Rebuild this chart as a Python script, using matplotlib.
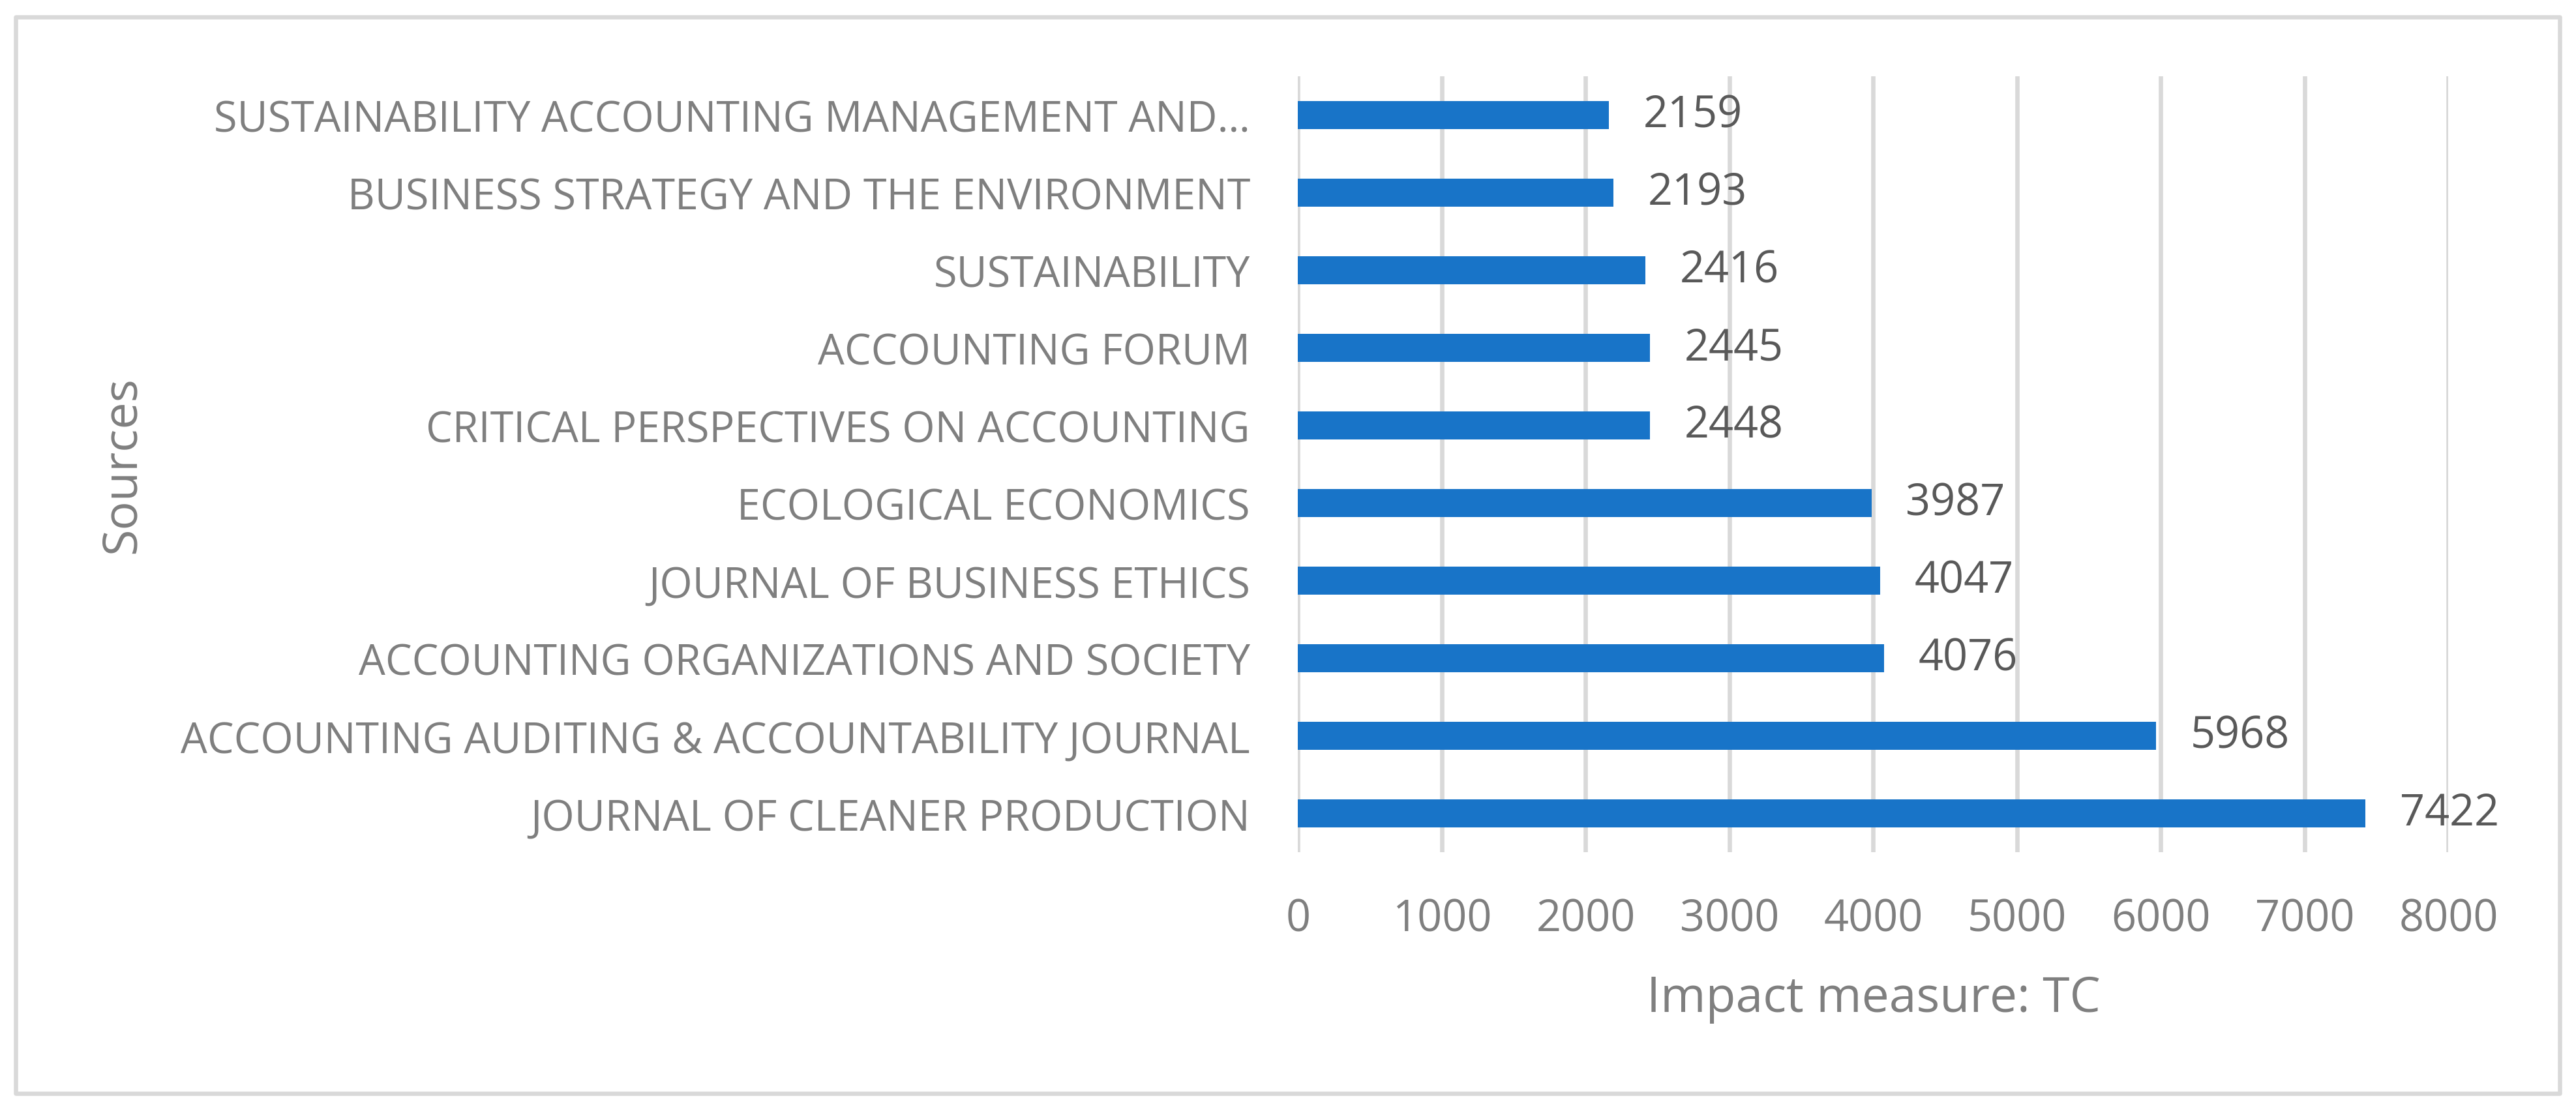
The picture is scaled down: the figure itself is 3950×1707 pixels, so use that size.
import matplotlib
matplotlib.use("Agg")
import matplotlib.pyplot as plt
from matplotlib.patches import Rectangle

sources = [
    "JOURNAL OF CLEANER PRODUCTION",
    "ACCOUNTING AUDITING & ACCOUNTABILITY JOURNAL",
    "ACCOUNTING ORGANIZATIONS AND SOCIETY",
    "JOURNAL OF BUSINESS ETHICS",
    "ECOLOGICAL ECONOMICS",
    "CRITICAL PERSPECTIVES ON ACCOUNTING",
    "ACCOUNTING FORUM",
    "SUSTAINABILITY",
    "BUSINESS STRATEGY AND THE ENVIRONMENT",
    "SUSTAINABILITY ACCOUNTING MANAGEMENT AND\u2026",
]
tc_values = [7422, 5968, 4076, 4047, 3987, 2448, 2445, 2416, 2193, 2159]
x_ticks = [0, 1000, 2000, 3000, 4000, 5000, 6000, 7000, 8000]

FONT = ["Open Sans", "DejaVu Sans"]
plt.rcParams["font.family"] = FONT

W, H = 3950, 1708
fig = plt.figure(figsize=(W / 100, H / 100), dpi=100)
fig.patch.set_facecolor("white")

# outer border
fig.patches.append(Rectangle((24 / W, 1 - 1677.5 / H), (3925 - 24) / W, (1677.5 - 26.5) / H,
                             transform=fig.transFigure, fill=False, edgecolor="#d9d9d9",
                             linewidth=4.7, joinstyle="round", zorder=0))

ax_l, ax_r, ax_t, ax_b = 1990.5, 3754.5, 118, 1308
ax = fig.add_axes([ax_l / W, 1 - ax_b / H, (ax_r - ax_l) / W, (ax_b - ax_t) / H])

ypos = list(range(len(sources)))
ax.barh(ypos, tc_values, height=0.36, color="#1874C8", zorder=3)

ax.set_xlim(0, 8000)
ax.set_ylim(-0.5, len(sources) - 0.5)
ax.set_xticks(x_ticks)
ax.set_xticklabels([str(t) for t in x_ticks])
ax.set_yticks(ypos)
ax.set_yticklabels(sources)

ax.grid(axis="x", color="#d9d9d9", linewidth=4.8, zorder=0)
ax.grid(axis="y", visible=False)
for s in ax.spines.values():
    s.set_visible(False)
ax.tick_params(axis="both", length=0)
ax.tick_params(axis="x", pad=50, labelsize=48, labelcolor="#7f7f7f")
ax.tick_params(axis="y", pad=53, labelsize=46.5, labelcolor="#7f7f7f")

for yv, v in zip(ypos, tc_values):
    ax.annotate(str(v), xy=(v, yv), xytext=(38, 0), textcoords="offset points",
                ha="left", va="center", fontsize=48, color="#595959")

ax.set_xlabel("Impact measure: TC", fontsize=54, color="#7f7f7f")
ax.xaxis.set_label_coords(0.5, -0.157)
ax.set_ylabel("Sources", fontsize=53, color="#7f7f7f")
ax.yaxis.set_label_coords(-1.001, 0.5)

fig.savefig("out.png", dpi=100, facecolor="white")
